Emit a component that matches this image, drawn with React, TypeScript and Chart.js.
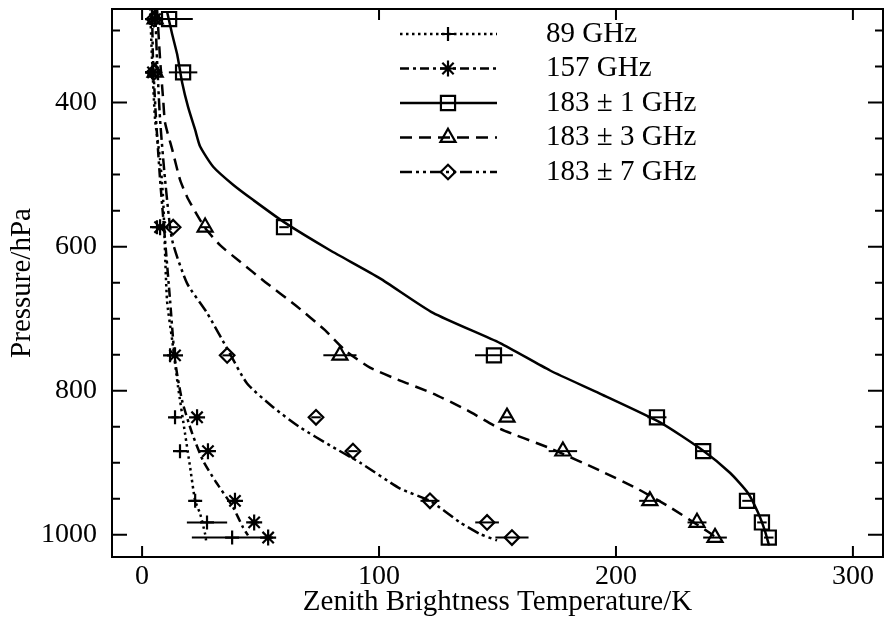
import React, { useEffect, useRef } from 'react';
import { Chart, registerables } from 'chart.js';

Chart.register(...registerables);

const FONT = "'Liberation Serif', 'Times New Roman', Times, serif";

// Axes
const xRange = [-12.7, 312.7];
const yRange = [270, 1031];
const xTicks = [0, 100, 200, 300];
const yTicks = [400, 600, 800, 1000];
const yMinorTicks = [300, 350, 450, 500, 550, 650, 700, 750, 850, 900, 950];
const xTitle = 'Zenith Brightness Temperature/K';
const yTitle = 'Pressure/hPa';

// Series names
const seriesNames = ['89 GHz', '157 GHz', '183 ± 1 GHz', '183 ± 3 GHz', '183 ± 7 GHz'];

// Observation pressure levels (hPa)
const pressureLevels = [284, 358, 573, 751, 837, 884, 953, 983, 1004];

// Observed brightness temperatures (K)
const obs89 = [4.2, 4.2, 6.3, 11.8, 13.9, 16.0, 22.4, 27.4, 38.0];
const obs157 = [5.5, 4.6, 7.6, 13.9, 23.2, 27.8, 39.2, 47.3, 53.2];
const obs183p1 = [11.4, 17.3, 59.9, 148.5, 217.3, 236.8, 255.3, 261.6, 264.5];
const obs183p3 = [5.5, 5.5, 26.6, 83.5, 154.0, 177.6, 214.3, 234.2, 241.8];
const obs183p7 = [5.0, 5.0, 13.1, 35.9, 73.4, 89.0, 121.5, 145.6, 156.1];

// Half-width of horizontal error bars (K)
const err89 = [0, 0, 0, 0, 1.5, 1.5, 2, 8.5, 17];
const err157 = [0, 0, 0, 1.5, 1.5, 2, 2, 2, 2];
const err183p1 = [10, 6, 2, 8, 4, 3, 2, 2, 2];
const err183p3 = [0, 0, 2, 7, 2, 6, 4.5, 4, 5];
const err183p7 = [0, 0, 2, 2, 2, 2, 4, 5, 7];

// Model profiles: temperature (K) and pressure (hPa)
const model89T = [3.4, 4.2, 5.5, 7.6, 8.9, 10.5, 12.7, 15.2, 18.1, 20.3, 22.4, 24.5, 26.6, 27.0];
const model89P = [269, 340, 424, 479, 535, 674, 730, 795, 859, 907, 953, 971, 999, 1008];

const model157T = [4.2, 4.6, 5.9, 7.6, 9.7, 11.8, 13.9, 16.9, 21.1, 25.7, 30.8, 38.4, 42.6, 44.7];
const model157P = [269, 340, 424, 507, 591, 674, 758, 814, 859, 897, 925, 962, 990, 1001];

const model183p1T = [10.5, 12.7, 14.8, 16.9, 19.4, 22.4, 24.5, 30.0, 38.4, 46.8, 59.9, 79.3, 100.4, 122.8, 151.1, 172.2, 193.2, 218.6, 236.7, 248.1, 255.7, 259.9, 262.9, 264.6];
const model183p1P = [273, 305, 333, 372, 406, 438, 461, 489, 514, 535, 566, 605, 644, 692, 734, 772, 804, 844, 883, 914, 942, 969, 995, 1015];

const model183p3T = [6.3, 7.6, 8.9, 9.7, 12.7, 16.0, 19.0, 23.2, 26.6, 32.9, 41.4, 51.9, 64.6, 77.2, 85.7, 96.2, 108.9, 122.8, 137.1, 151.1, 172.2, 193.2, 208.9, 222.8, 238.4, 243.9];
const model183p3P = [269, 340, 396, 428, 465, 507, 531, 556, 574, 598, 621, 649, 681, 716, 744, 768, 786, 804, 827, 853, 880, 911, 936, 962, 995, 1008];

const model183p7T = [5.5, 6.3, 7.6, 9.7, 12.7, 19.0, 27.4, 36.3, 44.3, 55.3, 66.7, 79.3, 92.0, 108.9, 121.5, 134.2, 142.6, 149.8];
const model183p7P = [269, 340, 424, 507, 591, 651, 692, 744, 790, 823, 851, 876, 900, 936, 953, 983, 999, 1008];

type Marker = 'cross' | 'star' | 'rect' | 'triangle' | 'rectRot';

const observed = [obs89, obs157, obs183p1, obs183p3, obs183p7];
const errors = [err89, err157, err183p1, err183p3, err183p7];
const modelT = [model89T, model157T, model183p1T, model183p3T, model183p7T];
const modelP = [model89P, model157P, model183p1P, model183p3P, model183p7P];

const styles: { marker: Marker; radius: number; dash: number[] }[] = [
  { marker: 'cross', radius: 7, dash: [2.5, 3.5] },
  { marker: 'star', radius: 8, dash: [9, 4, 3, 4] },
  { marker: 'rect', radius: 10, dash: [] },
  { marker: 'triangle', radius: 8.7, dash: [12, 7] },
  { marker: 'rectRot', radius: 7.3, dash: [12, 4, 3, 4, 3, 4] },
];

function drawMarker(ctx: CanvasRenderingContext2D, style: Marker, x: number, y: number, r: number) {
  ctx.beginPath();
  if (style === 'cross' || style === 'star') {
    ctx.moveTo(x - r, y); ctx.lineTo(x + r, y);
    ctx.moveTo(x, y - r); ctx.lineTo(x, y + r);
    if (style === 'star') {
      const d = r * Math.SQRT1_2;
      ctx.moveTo(x - d, y - d); ctx.lineTo(x + d, y + d);
      ctx.moveTo(x - d, y + d); ctx.lineTo(x + d, y - d);
    }
  } else if (style === 'rect') {
    const s = r * Math.SQRT1_2;
    ctx.rect(x - s, y - s, 2 * s, 2 * s);
  } else if (style === 'triangle') {
    let rad = 0;
    ctx.moveTo(x + Math.sin(rad) * r, y - Math.cos(rad) * r);
    rad += (2 * Math.PI) / 3;
    ctx.lineTo(x + Math.sin(rad) * r, y - Math.cos(rad) * r);
    rad += (2 * Math.PI) / 3;
    ctx.lineTo(x + Math.sin(rad) * r, y - Math.cos(rad) * r);
    ctx.closePath();
  } else {
    ctx.moveTo(x - r, y); ctx.lineTo(x, y - r); ctx.lineTo(x + r, y); ctx.lineTo(x, y + r);
    ctx.closePath();
  }
  ctx.stroke();
}

const AREA = { left: 112, top: 9, rightGap: 2, bottomGap: 64 };

const framePlugin = {
  id: 'frameAndExtras',
  afterLayout(chart: any) {
    const a = chart.chartArea;
    const x = chart.scales.x;
    const y = chart.scales.y;
    const R = chart.width - AREA.rightGap;
    const B = chart.height - AREA.bottomGap;
    if (Math.abs(a.right - R) > 0.5 || Math.abs(a.left - AREA.left) > 0.5) {
      a.left = AREA.left; a.right = R; a.width = R - AREA.left;
      x.left = AREA.left; x.right = R; x.width = R - AREA.left;
      x.configure();
    }
    if (Math.abs(a.top - AREA.top) > 0.5 || Math.abs(a.bottom - B) > 0.5) {
      a.top = AREA.top; a.bottom = B; a.height = B - AREA.top;
      y.top = AREA.top; y.bottom = B; y.height = B - AREA.top;
      y.configure();
    }
  },
  beforeDatasetsDraw(chart: any) {
    const { ctx, chartArea: a, scales } = chart;
    const x = scales.x, y = scales.y;
    ctx.save();
    ctx.beginPath();
    ctx.rect(a.left, a.top, a.right - a.left, a.bottom - a.top);
    ctx.clip();
    ctx.strokeStyle = '#000';
    ctx.lineWidth = 2;
    ctx.setLineDash([]);
    observed.forEach((vals, si) => {
      vals.forEach((v, i) => {
        const e = errors[si][i];
        if (!e) return;
        const py = y.getPixelForValue(pressureLevels[i]);
        ctx.beginPath();
        ctx.moveTo(x.getPixelForValue(v - e), py);
        ctx.lineTo(x.getPixelForValue(v + e), py);
        ctx.stroke();
      });
    });
    ctx.restore();
  },
  afterDraw(chart: any) {
    const { ctx, chartArea: a, scales } = chart;
    const x = scales.x, y = scales.y;
    ctx.save();
    ctx.strokeStyle = '#000';
    ctx.setLineDash([]);
    ctx.lineWidth = 2;
    ctx.lineCap = 'butt';
    ctx.strokeRect(a.left, a.top, a.right - a.left, a.bottom - a.top);
    ctx.beginPath();
    xTicks.forEach((v) => {
      const px = x.getPixelForValue(v);
      ctx.moveTo(px, a.bottom); ctx.lineTo(px, a.bottom - 11);
      ctx.moveTo(px, a.top); ctx.lineTo(px, a.top + 11);
    });
    yTicks.forEach((v) => {
      const py = y.getPixelForValue(v);
      ctx.moveTo(a.left, py); ctx.lineTo(a.left + 15, py);
      ctx.moveTo(a.right, py); ctx.lineTo(a.right - 15, py);
    });
    yMinorTicks.forEach((v) => {
      const py = y.getPixelForValue(v);
      ctx.moveTo(a.left, py); ctx.lineTo(a.left + 8, py);
      ctx.moveTo(a.right, py); ctx.lineTo(a.right - 8, py);
    });
    ctx.stroke();

    // Legend
    const lx0 = 400, lx1 = 497, mx = 448, tx = 546;
    const rowY0 = 34, rowStep = 34.5;
    ctx.font = `29px ${FONT}`;
    ctx.fillStyle = '#000';
    ctx.textBaseline = 'middle';
    ctx.textAlign = 'left';
    seriesNames.forEach((name, i) => {
      const ry = rowY0 + i * rowStep;
      const st = styles[i];
      ctx.lineWidth = 2.5;
      ctx.setLineDash(st.dash);
      ctx.beginPath();
      ctx.moveTo(lx0, ry); ctx.lineTo(lx1, ry);
      ctx.stroke();
      ctx.setLineDash([]);
      ctx.lineWidth = 2.2;
      drawMarker(ctx, st.marker, mx, ry, st.radius);
      ctx.fillText(name, tx, ry);
    });
    ctx.restore();
  },
};

export default function App() {
  const ref = useRef<HTMLCanvasElement>(null);
  useEffect(() => {
    const canvas = ref.current!;
    const curveDatasets = modelT.map((T, si) => ({
      label: seriesNames[si] + ' model',
      data: T.map((t, i) => ({ x: t, y: modelP[si][i] })),
      showLine: true,
      borderColor: '#000',
      backgroundColor: '#000',
      borderWidth: 2.5,
      borderDash: styles[si].dash,
      pointRadius: 0,
      tension: 0.2,
      fill: false,
    }));
    const markerDatasets = observed.map((vals, si) => ({
      label: seriesNames[si],
      data: vals.map((v, i) => ({ x: v, y: pressureLevels[i] })),
      showLine: false,
      borderColor: '#000',
      backgroundColor: 'rgba(0,0,0,0)',
      pointStyle: styles[si].marker,
      pointRadius: styles[si].radius,
      pointBorderWidth: 2.2,
      pointBorderColor: '#000',
      pointBackgroundColor: 'rgba(0,0,0,0)',
    }));
    const zeroPad = (s: any) => { s.paddingLeft = 0; s.paddingRight = 0; s.paddingTop = 0; s.paddingBottom = 0; };
    const chart = new Chart(canvas, {
      type: 'scatter',
      data: { datasets: [...curveDatasets, ...markerDatasets] as any },
      options: {
        animation: false,
        responsive: false,
        maintainAspectRatio: false,
        devicePixelRatio: 1,
        events: [],
        layout: { padding: { left: 0, right: AREA.rightGap, top: AREA.top, bottom: 0 } },
        plugins: { legend: { display: false }, tooltip: { enabled: false } },
        scales: {
          x: {
            type: 'linear',
            min: xRange[0],
            max: xRange[1],
            afterBuildTicks: (s: any) => { s.ticks = xTicks.map((v) => ({ value: v })); },
            afterFit: (s: any) => { s.height = AREA.bottomGap; zeroPad(s); },
            grid: { display: false, drawTicks: false },
            border: { display: false },
            ticks: { color: '#000', padding: 3, font: { family: FONT, size: 28 }, maxRotation: 0, autoSkip: false, callback: (v: any) => String(v) },
            title: { display: true, text: xTitle, color: '#000', font: { family: FONT, size: 29 }, padding: { top: 0, bottom: 1 } },
          },
          y: {
            type: 'linear',
            reverse: true,
            min: yRange[0],
            max: yRange[1],
            afterBuildTicks: (s: any) => { s.ticks = yTicks.map((v) => ({ value: v })); },
            afterFit: (s: any) => { s.width = AREA.left; zeroPad(s); },
            grid: { display: false, drawTicks: false },
            border: { display: false },
            ticks: { color: '#000', padding: 15, font: { family: FONT, size: 28 }, autoSkip: false, callback: (v: any) => String(v) },
            title: { display: true, text: yTitle, color: '#000', font: { family: FONT, size: 29 }, padding: { top: 5, bottom: 0 } },
          },
        },
      } as any,
      plugins: [framePlugin],
    });
    return () => chart.destroy();
  }, []);
  return (
    <div style={{ position: 'absolute', left: 0, top: 0, width: 885, height: 621, background: '#fff' }}>
      <canvas ref={ref} width={885} height={621} style={{ display: 'block', width: 885, height: 621 }} />
    </div>
  );
}
